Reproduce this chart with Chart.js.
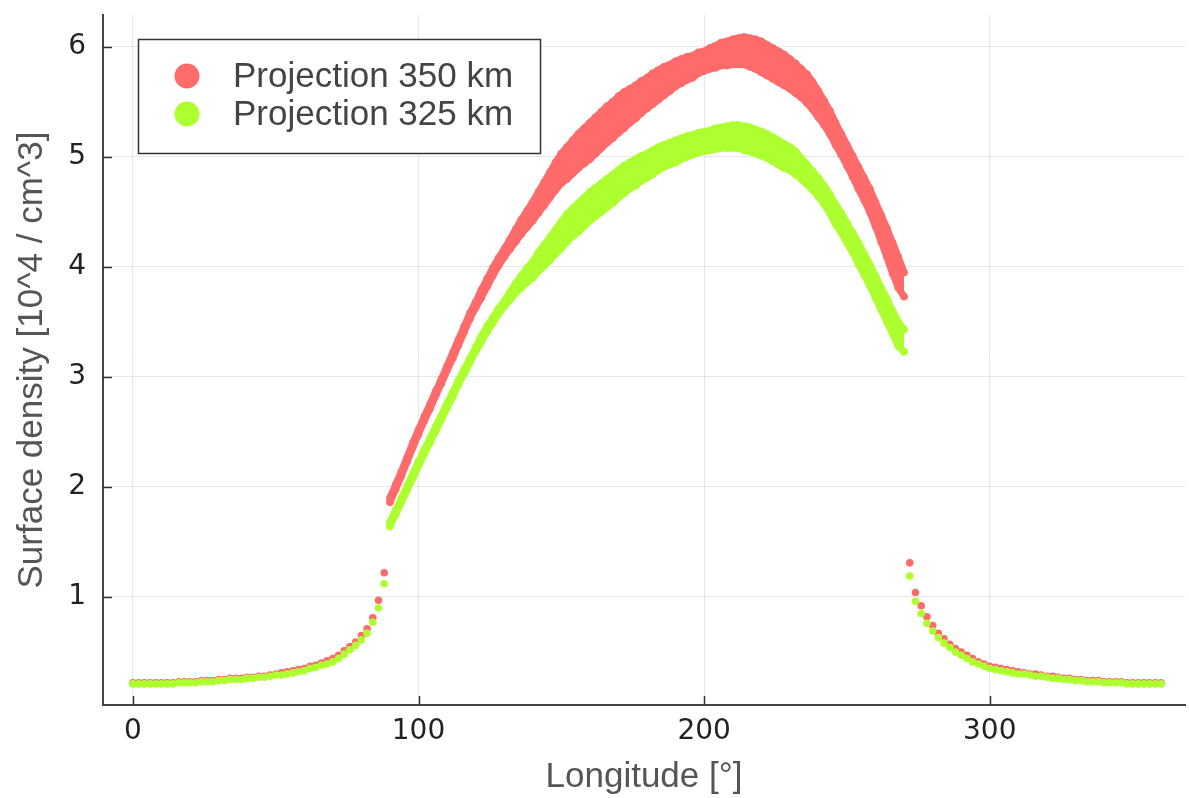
<!DOCTYPE html>
<html>
<head>
<meta charset="utf-8">
<script src="https://cdn.jsdelivr.net/npm/chart.js@4.4.0/dist/chart.umd.min.js"></script>
<style>
  html, body { margin: 0; padding: 0; background: #fff; overflow: hidden; }
</style>
</head>
<body>
<canvas id="chart" width="1189" height="798"></canvas>
<script>
// Longitudes [deg]
const lonLeft = [0, 2, 4, 6, 8, 10, 12, 14, 16, 18,
  20, 22, 24, 26, 28, 30, 32, 34, 36, 38,
  40, 42, 44, 46, 48, 50, 52, 54, 56, 58,
  60, 62, 64, 66, 68, 70, 72, 74, 76, 78,
  80, 82, 84, 86, 88];
const lonBand = [90, 92, 94, 96, 98, 100, 102, 104, 106, 108,
  110, 112, 114, 116, 118, 120, 122, 124, 126, 128,
  130, 132, 134, 136, 138, 140, 142, 144, 146, 148,
  150, 152, 154, 156, 158, 160, 162, 164, 166, 168,
  170, 172, 174, 176, 178, 180, 182, 184, 186, 188,
  190, 192, 194, 196, 198, 200, 202, 204, 206, 208,
  210, 212, 214, 216, 218, 220, 222, 224, 226, 228,
  230, 232, 234, 236, 238, 240, 242, 244, 246, 248,
  250, 252, 254, 256, 258, 260, 262, 264, 266, 268,
  270];
const lonRight = [272, 274, 276, 278, 280, 282, 284, 286, 288, 290,
  292, 294, 296, 298, 300, 302, 304, 306, 308, 310,
  312, 314, 316, 318, 320, 322, 324, 326, 328, 330,
  332, 334, 336, 338, 340, 342, 344, 346, 348, 350,
  352, 354, 356, 358, 360];

// Projection 350 km
const red350Left = [0.22, 0.22, 0.22, 0.22, 0.22, 0.22, 0.22, 0.22, 0.23, 0.23,
  0.23, 0.23, 0.24, 0.24, 0.24, 0.25, 0.25, 0.26, 0.26, 0.26,
  0.27, 0.27, 0.28, 0.28, 0.29, 0.30, 0.31, 0.32, 0.33, 0.34,
  0.35, 0.37, 0.38, 0.40, 0.42, 0.44, 0.47, 0.51, 0.55, 0.59,
  0.65, 0.71, 0.81, 0.97, 1.22];
const red350Low = [1.86, 1.98, 2.10, 2.23, 2.36, 2.48, 2.60, 2.71, 2.83, 2.94,
  3.06, 3.17, 3.29, 3.41, 3.53, 3.63, 3.72, 3.82, 3.92, 4.01,
  4.09, 4.16, 4.23, 4.30, 4.36, 4.42, 4.49, 4.56, 4.63, 4.70,
  4.76, 4.80, 4.85, 4.90, 4.94, 4.98, 5.03, 5.08, 5.13, 5.17,
  5.22, 5.26, 5.31, 5.35, 5.40, 5.44, 5.48, 5.52, 5.56, 5.60,
  5.64, 5.67, 5.70, 5.72, 5.76, 5.78, 5.80, 5.81, 5.83, 5.83,
  5.84, 5.84, 5.84, 5.82, 5.80, 5.77, 5.74, 5.71, 5.68, 5.65,
  5.62, 5.58, 5.54, 5.49, 5.43, 5.36, 5.29, 5.21, 5.11, 5.02,
  4.92, 4.82, 4.71, 4.61, 4.50, 4.37, 4.23, 4.09, 3.94, 3.81,
  3.73];
const red350High = [1.90, 2.02, 2.14, 2.27, 2.40, 2.52, 2.64, 2.75, 2.87, 2.98,
  3.10, 3.22, 3.34, 3.46, 3.58, 3.68, 3.79, 3.89, 3.99, 4.08,
  4.16, 4.25, 4.34, 4.43, 4.51, 4.59, 4.68, 4.77, 4.86, 4.95,
  5.03, 5.09, 5.15, 5.21, 5.26, 5.31, 5.36, 5.41, 5.46, 5.50,
  5.55, 5.59, 5.62, 5.65, 5.69, 5.72, 5.76, 5.79, 5.82, 5.84,
  5.87, 5.89, 5.91, 5.92, 5.95, 5.96, 5.99, 6.01, 6.04, 6.05,
  6.07, 6.08, 6.09, 6.08, 6.07, 6.05, 6.02, 5.99, 5.96, 5.93,
  5.89, 5.85, 5.80, 5.75, 5.68, 5.60, 5.51, 5.42, 5.31, 5.21,
  5.11, 5.01, 4.91, 4.81, 4.71, 4.59, 4.47, 4.35, 4.22, 4.09,
  3.95];
const red350Right = [1.31, 1.04, 0.92, 0.82, 0.74, 0.67, 0.62, 0.57, 0.53, 0.50,
  0.47, 0.44, 0.41, 0.39, 0.37, 0.36, 0.35, 0.34, 0.33, 0.32,
  0.31, 0.30, 0.30, 0.29, 0.28, 0.28, 0.27, 0.26, 0.26, 0.25,
  0.25, 0.24, 0.24, 0.24, 0.23, 0.23, 0.23, 0.23, 0.22, 0.22,
  0.22, 0.22, 0.22, 0.22, 0.22];

// Projection 325 km
const green325Left = [0.21, 0.21, 0.21, 0.21, 0.21, 0.21, 0.21, 0.21, 0.22, 0.22,
  0.22, 0.22, 0.23, 0.23, 0.23, 0.24, 0.24, 0.25, 0.25, 0.25,
  0.26, 0.26, 0.27, 0.27, 0.28, 0.29, 0.29, 0.30, 0.31, 0.32,
  0.33, 0.35, 0.36, 0.38, 0.39, 0.41, 0.44, 0.48, 0.52, 0.56,
  0.61, 0.67, 0.77, 0.90, 1.12];
const green325Low = [1.64, 1.75, 1.86, 1.97, 2.08, 2.19, 2.30, 2.40, 2.51, 2.61,
  2.72, 2.82, 2.93, 3.03, 3.13, 3.23, 3.32, 3.41, 3.49, 3.57,
  3.64, 3.70, 3.76, 3.81, 3.86, 3.90, 3.96, 4.01, 4.06, 4.12,
  4.17, 4.23, 4.28, 4.32, 4.37, 4.42, 4.46, 4.50, 4.54, 4.58,
  4.63, 4.67, 4.71, 4.74, 4.78, 4.81, 4.84, 4.88, 4.91, 4.93,
  4.95, 4.98, 5.00, 5.02, 5.04, 5.05, 5.06, 5.07, 5.08, 5.08,
  5.08, 5.08, 5.06, 5.05, 5.03, 5.01, 4.99, 4.96, 4.93, 4.90,
  4.88, 4.84, 4.80, 4.75, 4.70, 4.64, 4.57, 4.49, 4.39, 4.31,
  4.22, 4.13, 4.03, 3.93, 3.83, 3.72, 3.61, 3.50, 3.39, 3.28,
  3.23];
const green325High = [1.68, 1.79, 1.90, 2.01, 2.12, 2.23, 2.34, 2.44, 2.55, 2.65,
  2.76, 2.86, 2.97, 3.07, 3.17, 3.27, 3.37, 3.46, 3.54, 3.62,
  3.69, 3.77, 3.85, 3.92, 3.99, 4.05, 4.13, 4.20, 4.27, 4.34,
  4.41, 4.48, 4.53, 4.58, 4.63, 4.68, 4.72, 4.76, 4.80, 4.84,
  4.88, 4.92, 4.95, 4.98, 5.01, 5.03, 5.06, 5.09, 5.11, 5.13,
  5.15, 5.17, 5.19, 5.20, 5.22, 5.23, 5.24, 5.26, 5.27, 5.28,
  5.29, 5.29, 5.28, 5.27, 5.25, 5.23, 5.21, 5.18, 5.15, 5.12,
  5.09, 5.05, 4.99, 4.93, 4.87, 4.81, 4.74, 4.66, 4.57, 4.49,
  4.40, 4.31, 4.22, 4.12, 4.02, 3.92, 3.81, 3.71, 3.60, 3.50,
  3.43];
const green325Right = [1.19, 0.96, 0.85, 0.76, 0.69, 0.63, 0.58, 0.54, 0.50, 0.47,
  0.44, 0.41, 0.39, 0.37, 0.35, 0.34, 0.33, 0.32, 0.31, 0.30,
  0.30, 0.29, 0.28, 0.28, 0.27, 0.26, 0.26, 0.25, 0.25, 0.24,
  0.24, 0.23, 0.23, 0.23, 0.22, 0.22, 0.22, 0.22, 0.21, 0.21,
  0.21, 0.21, 0.21, 0.21, 0.21];

const xTicks = [0, 100, 200, 300];
const yTicks = [1, 2, 3, 4, 5, 6];

const RED = '#FF6A6A';
const GREEN = '#ADFF2F';

function pts(lons, vals) {
  return lons.map((x, i) => ({ x: x, y: vals[i] }));
}

// tails as plain markers, the wide middle part as a filled band edged with markers
function seriesSets(label, color, order, left, low, high, right) {
  const marker = { pointRadius: 3.8, pointBorderWidth: 0, pointBackgroundColor: color, order: order };
  const edge = { showLine: true, borderWidth: 7, borderColor: color, backgroundColor: color,
    borderCapStyle: 'round', borderJoinStyle: 'round' };
  return [
    Object.assign({ label: label, legend: true, data: pts(lonLeft, left).concat(pts(lonRight, right)),
      backgroundColor: color, showLine: false }, marker),
    Object.assign({ label: label + ' hi', data: pts(lonBand, high), fill: '+1' }, edge, marker),
    Object.assign({ label: label + ' lo', data: pts(lonBand, low), fill: false }, edge, marker)
  ];
}

const innerTicks = {
  id: 'innerTicks',
  afterDatasetsDraw(chart) {
    const { ctx, chartArea, scales } = chart;
    ctx.save();
    ctx.strokeStyle = '#333';
    ctx.lineWidth = 1.5;
    ctx.beginPath();
    scales.x.ticks.forEach(t => {
      const px = Math.round(scales.x.getPixelForValue(t.value)) + 0.5;
      ctx.moveTo(px, chartArea.bottom);
      ctx.lineTo(px, chartArea.bottom - 9);
    });
    scales.y.ticks.forEach(t => {
      const py = Math.round(scales.y.getPixelForValue(t.value)) + 0.5;
      ctx.moveTo(chartArea.left, py);
      ctx.lineTo(chartArea.left + 9, py);
    });
    ctx.stroke();
    ctx.restore();
  }
};

const legendBox = {
  id: 'legendBox',
  afterDraw(chart) {
    const ctx = chart.ctx;
    const items = chart.data.datasets.filter(d => d.legend);
    ctx.save();
    ctx.fillStyle = '#fff';
    ctx.fillRect(138, 39, 402, 114);
    ctx.strokeStyle = '#333';
    ctx.lineWidth = 1.5;
    ctx.strokeRect(138.5, 39.5, 402, 114);
    ctx.font = '35px "Liberation Sans", Arial, sans-serif';
    ctx.textBaseline = 'middle';
    items.forEach((d, i) => {
      const cy = 76 + i * 38;
      ctx.beginPath();
      ctx.fillStyle = d.pointBackgroundColor;
      ctx.arc(187, cy, 12.5, 0, Math.PI * 2);
      ctx.fill();
      ctx.fillStyle = '#444';
      ctx.fillText(d.label, 233, cy + 1);
    });
    ctx.restore();
  }
};

const datasets = []
  .concat(seriesSets('Projection 350 km', RED, 2, red350Left, red350Low, red350High, red350Right))
  .concat(seriesSets('Projection 325 km', GREEN, 1, green325Left, green325Low, green325High, green325Right));

new Chart(document.getElementById('chart'), {
  type: 'scatter',
  data: { datasets: datasets },
  options: {
    responsive: false,
    animation: false,
    devicePixelRatio: 1,
    layout: { padding: { top: 15, right: 0, bottom: 0, left: 0 } },
    plugins: {
      legend: { display: false },
      tooltip: { enabled: false },
      filler: { propagate: false }
    },
    scales: {
      x: {
        type: 'linear',
        min: -10.47,
        max: 368.37,
        afterBuildTicks: a => { a.ticks = xTicks.map(v => ({ value: v })); },
        afterFit: a => { a.height = 93; a.paddingLeft = 0; a.paddingRight = 0; },
        grid: { color: 'rgba(0,0,0,0.09)', lineWidth: 1, drawTicks: false },
        border: { display: true, color: '#444', width: 2 },
        ticks: { font: { family: 'DejaVu Sans', size: 28 }, color: '#222', padding: 10, maxRotation: 0 },
        title: {
          display: true, text: 'Longitude [°]', color: '#555',
          font: { family: 'Liberation Sans', size: 35 }, padding: { top: 0, bottom: 0 }
        }
      },
      y: {
        type: 'linear',
        min: 0.018,
        max: 6.29,
        afterBuildTicks: a => { a.ticks = yTicks.map(v => ({ value: v })); },
        afterFit: a => { a.width = 103; a.paddingTop = 0; a.paddingBottom = 0; },
        grid: { color: 'rgba(0,0,0,0.09)', lineWidth: 1, drawTicks: false },
        border: { display: true, color: '#444', width: 2 },
        ticks: { font: { family: 'DejaVu Sans', size: 28 }, color: '#222', padding: 17 },
        title: {
          display: true, text: 'Surface density [10^4 / cm^3]', color: '#555',
          font: { family: 'Liberation Sans', size: 35 }, padding: { top: 11, bottom: 0 }
        }
      }
    }
  },
  plugins: [innerTicks, legendBox]
});
</script>
</body>
</html>
